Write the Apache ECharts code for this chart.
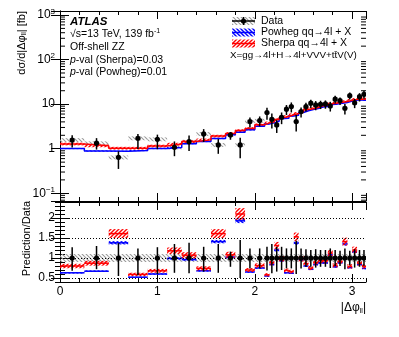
<!DOCTYPE html>
<html>
<head>
<meta charset="utf-8">
<script src="https://cdn.jsdelivr.net/npm/echarts@6/dist/echarts.min.js"></script>
<style>
  html, body { margin: 0; padding: 0; background: #fff; }
  #chart { width: 399px; height: 337px; }
</style>
</head>
<body>
<div id="chart"></div>
<script>
// bin edges in |dphi_ll|
var binEdges = [0, 0.25, 0.5, 0.7, 0.9, 1.1, 1.25, 1.4, 1.55, 1.7, 1.8, 1.9, 2.0, 2.1,
  2.15, 2.2, 2.25, 2.3, 2.35, 2.4, 2.45, 2.5, 2.55, 2.6, 2.65, 2.7, 2.75, 2.8, 2.85,
  2.9, 2.95, 3.0, 3.05, 3.1, 3.1416]

// measured cross-section [fb]
var dataVal = [1.57, 1.33, 0.64, 1.72, 1.63, 1.08, 1.44, 2.15, 1.22, 2.04, 1.22, 4.06, 4.27,
  6.5, 4.58, 3.42, 5.08, 7.7, 8.8, 4.06, 6.8, 8.8, 10.5,
  9.6, 9.95, 10.1, 9.1, 12.9, 12.0, 8.1, 15.5, 10.7, 14.7, 16.6]
// relative error bar ends (as read in ratio panel)
var dataErrUp = [1.27, 1.3, 1.37, 1.24, 1.27, 1.35, 1.38, 1.28, 1.35, 1.16, 1.45, 1.24, 1.24,
  1.28, 1.35, 1.28, 1.28, 1.24, 1.24, 1.43, 1.24, 1.22, 1.2,
  1.22, 1.2, 1.2, 1.24, 1.2, 1.18, 1.24, 1.18, 1.22, 1.2, 1.2]
var dataErrDn = [0.68, 0.72, 0.55, 0.57, 0.6, 0.63, 0.62, 0.66, 0.63, 0.78, 0.5, 0.74, 0.74,
  0.69, 0.62, 0.66, 0.7, 0.74, 0.74, 0.6, 0.74, 0.78, 0.78,
  0.76, 0.78, 0.78, 0.75, 0.8, 0.8, 0.72, 0.82, 0.76, 0.78, 0.8]

// predictions [fb]
var powhegVal = [1.01, 0.89, 0.88, 0.91, 1.01, 1.07, 1.3, 1.45, 1.69, 2.07, 2.35, 2.65, 3.2,
  3.6, 3.8, 4.15, 4.75, 4.85, 5.45, 5.6, 6.5, 7.1, 7.6,
  8.0, 8.6, 8.9, 9.8, 10.1, 10.5, 10.9, 11.7, 12.4, 12.4, 12.3]
var sherpaVal = [1.28, 1.16, 1.03, 1.03, 1.15, 1.27, 1.45, 1.58, 1.92, 2.2, 2.55, 2.85, 3.45,
  3.8, 4.0, 4.5, 5.0, 5.3, 5.8, 6.2, 6.7, 7.6, 7.9,
  8.4, 9.2, 9.4, 10.2, 10.6, 11.0, 11.4, 12.2, 12.8, 12.8, 13.1]

// prediction / data
var powhegRatio = [0.63, 0.67, 1.38, 0.52, 0.6, 0.99, 0.96, 0.68, 1.41, 1.02, 1.93, 0.65, 0.75,
  0.55, 0.84, 1.2, 0.93, 0.63, 0.62, 1.37, 0.95, 0.8, 0.72,
  0.84, 0.88, 0.88, 1.08, 0.78, 0.88, 1.35, 0.76, 1.16, 0.84, 0.74]
var sherpaRatio = [0.8, 0.87, 1.61, 0.59, 0.68, 1.18, 1.07, 0.74, 1.61, 1.08, 2.1, 0.7, 0.81,
  0.58, 0.88, 1.31, 0.98, 0.69, 0.66, 1.53, 0.98, 0.86, 0.75,
  0.88, 0.94, 0.93, 1.12, 0.82, 0.92, 1.41, 0.79, 1.2, 0.87, 0.79]

var dataSyst = 0.1
var powhegUnc = 0.03
var sherpaUnc = 0.07

var ratioTicks = [0.5, 1, 1.5, 2]
var ratioLines = [0.5, 1, 1.5, 2]
var logMinor = [0.07, 0.08, 0.09, 0.2, 0.3, 0.4, 0.5, 0.6, 0.7, 0.8, 0.9,
  2, 3, 4, 5, 6, 7, 8, 9, 20, 30, 40, 50, 60, 70, 80, 90,
  200, 300, 400, 500, 600, 700, 800, 900]

var FONT = '"Liberation Sans", Arial, sans-serif'
var PI = Math.PI

// small repeating canvas used as a hatch fill
function hatch(color, dir, lw) {
  var c = document.createElement('canvas')
  c.width = 4; c.height = 4
  var g = c.getContext('2d')
  g.strokeStyle = color
  g.lineWidth = lw
  g.beginPath()
  if (dir > 0) {
    g.moveTo(-1, 5); g.lineTo(5, -1)
    g.moveTo(-1, 1); g.lineTo(1, -1)
    g.moveTo(3, 5); g.lineTo(5, 3)
  } else {
    g.moveTo(-1, -1); g.lineTo(5, 5)
    g.moveTo(3, -1); g.lineTo(5, 1)
    g.moveTo(-1, 3); g.lineTo(1, 5)
  }
  g.stroke()
  return { image: c, repeat: 'repeat' }
}
var grayHatch = hatch('#9a9a9a', -1, 1.1)
var redHatch = hatch('#ff0000', 1, 1.4)
var blueHatch = hatch('#0000ff', -1, 1.4)

function lo(i) { return binEdges[i] }
function hi(i) { return binEdges[i + 1] }
function mid(i) { return (binEdges[i] + binEdges[i + 1]) / 2 }

function boxSeries(xi, yi, items, fill, stroke) {
  return {
    type: 'custom', xAxisIndex: xi, yAxisIndex: yi, clip: true, silent: true,
    encode: { x: [0, 1], y: [2, 3, 4] },
    renderItem: function (params, api) {
      var p1 = api.coord([api.value(0), api.value(3)])
      var p2 = api.coord([api.value(1), api.value(2)])
      var kids = [{
        type: 'rect',
        shape: { x: p1[0], y: p1[1], width: p2[0] - p1[0], height: p2[1] - p1[1] },
        style: { fill: fill }
      }]
      if (stroke) {
        var m = api.coord([api.value(0), api.value(4)])
        kids.push({
          type: 'line',
          shape: { x1: p1[0], y1: m[1], x2: p2[0], y2: m[1] },
          style: { stroke: stroke, lineWidth: 1.5 }
        })
      }
      return { type: 'group', children: kids }
    },
    data: items
  }
}

function pointSeries(xi, yi, items) {
  return {
    type: 'custom', xAxisIndex: xi, yAxisIndex: yi, clip: true, silent: true, z: 5,
    encode: { x: 0, y: [1, 2, 3] },
    renderItem: function (params, api) {
      var c = api.coord([api.value(0), api.value(1)])
      var a = api.coord([api.value(0), api.value(2)])
      var b = api.coord([api.value(0), api.value(3)])
      return {
        type: 'group', children: [
          { type: 'line', shape: { x1: a[0], y1: a[1], x2: b[0], y2: b[1] }, style: { stroke: '#000', lineWidth: 1.5 } },
          { type: 'circle', shape: { cx: c[0], cy: c[1], r: 2.6 }, style: { fill: '#000' } }
        ]
      }
    },
    data: items
  }
}

function stepData(vals) {
  var out = vals.map(function (v, i) { return [lo(i), v] })
  out.push([binEdges[binEdges.length - 1], vals[vals.length - 1]])
  return out
}

function xAxes(grid, labels) {
  var base = function (pos, interval, len, line, lab) {
    return {
      gridIndex: grid, type: 'value', position: pos, min: 0, max: PI, interval: interval,
      axisLine: { show: line, onZero: false, lineStyle: { color: '#000', width: 1 } },
      axisTick: { show: true, inside: true, length: len, lineStyle: { color: '#000', width: 1 } },
      axisLabel: {
        show: lab, showMaxLabel: false, margin: 4, color: '#000',
        fontFamily: FONT, fontSize: 12
      },
      splitLine: { show: false }
    }
  }
  return [
    base('bottom', 1, 8, true, labels),
    base('bottom', 0.2, 4, false, false),
    base('top', 1, 8, true, false),
    base('top', 0.2, 4, false, false)
  ]
}

function logLabel(v) {
  var e = Math.round(Math.log(v) / Math.LN10)
  if (e === 0) return '1'
  if (e === 1) return '10'
  return '{b|10}{p|' + (e < 0 ? '\u2212' + (-e) : e) + '}'
}

var logAxis = function (pos, lab) {
  return {
    gridIndex: 0, type: 'log', logBase: 10, position: pos, min: 0.0672, max: 1229,
    axisLine: { show: true, lineStyle: { color: '#000', width: 1 } },
    axisTick: { inside: true, length: 9, lineStyle: { color: '#000' } },
    axisLabel: {
      show: lab, showMinLabel: false, showMaxLabel: false, margin: 5, color: '#000',
      fontFamily: FONT, fontSize: 12, formatter: logLabel,
      rich: {
        b: { fontFamily: FONT, fontSize: 12, color: '#000' },
        p: { fontFamily: FONT, fontSize: 8, color: '#000', padding: [0, 0, 7, 0] }
      }
    },
    splitLine: { show: false }
  }
}

function ratioAxis(pos, major, lab) {
  var ax = {
    gridIndex: 1, type: 'value', position: pos, min: 0.4, max: 2.4,
    axisLine: { show: major, lineStyle: { color: '#000', width: 1 } },
    axisTick: { inside: true, length: major ? 9 : 5, lineStyle: { color: '#000' } },
    axisLabel: { show: lab, margin: 5, color: '#000', fontFamily: FONT, fontSize: 12 },
    splitLine: { show: false }
  }
  if (major) {
    ax.axisTick.customValues = ratioTicks
    ax.axisLabel.customValues = ratioTicks
  } else {
    ax.interval = 0.1
  }
  return ax
}

var upperGray = dataVal.map(function (v, i) { return [lo(i), hi(i), v * (1 - dataSyst), v * (1 + dataSyst), v] })
var upperPow = powhegVal.map(function (v, i) { return [lo(i), hi(i), v * (1 - powhegUnc), v * (1 + powhegUnc), v] })
var upperSh = sherpaVal.map(function (v, i) { return [lo(i), hi(i), v * (1 - sherpaUnc), v * (1 + sherpaUnc), v] })
var upperPts = dataVal.map(function (v, i) { return [mid(i), v, v * dataErrDn[i], v * dataErrUp[i]] })

var ratioGray = dataVal.map(function (v, i) { return [lo(i), hi(i), 1 - dataSyst, 1 + dataSyst, 1] })
var ratioPow = powhegRatio.map(function (v, i) { return [lo(i), hi(i), v * (1 - powhegUnc), v * (1 + powhegUnc), v] })
var ratioSh = sherpaRatio.map(function (v, i) { return [lo(i), hi(i), v * (1 - sherpaUnc), v * (1 + sherpaUnc), v] })
var ratioPts = dataVal.map(function (v, i) { return [mid(i), 1, dataErrDn[i], dataErrUp[i]] })

var chart = echarts.init(document.getElementById('chart'))

var option = {
  animation: false,
  backgroundColor: '#fff',
  grid: [
    { left: 60, top: 11, width: 306, height: 190 },
    { left: 60, top: 202, width: 306, height: 80 }
  ],
  xAxis: xAxes(0, false).concat(xAxes(1, true)),
  yAxis: [
    logAxis('left', true),
    logAxis('right', false),
    ratioAxis('left', true, true),
    ratioAxis('left', false, false),
    ratioAxis('right', true, false),
    ratioAxis('right', false, false)
  ],
  series: [
    boxSeries(0, 0, upperGray, grayHatch, null),
    boxSeries(0, 0, upperPow, blueHatch, null),
    boxSeries(0, 0, upperSh, redHatch, null),
    {
      type: 'line', xAxisIndex: 0, yAxisIndex: 0, step: 'end', showSymbol: false, silent: true,
      lineStyle: { color: '#0000ff', width: 1.5 }, data: stepData(powhegVal)
    },
    {
      type: 'line', xAxisIndex: 0, yAxisIndex: 0, step: 'end', showSymbol: false, silent: true,
      lineStyle: { color: '#ff0000', width: 1.5 }, data: stepData(sherpaVal)
    },
    pointSeries(0, 0, upperPts),
    {
      // minor log ticks on both sides
      type: 'custom', xAxisIndex: 0, yAxisIndex: 0, silent: true,
      encode: { x: 0, y: 1 },
      renderItem: function (params, api) {
        var l = api.coord([0, api.value(1)])
        var r = api.coord([PI, api.value(1)])
        return {
          type: 'group', children: [
            { type: 'line', shape: { x1: l[0], y1: l[1], x2: l[0] + 5, y2: l[1] }, style: { stroke: '#000', lineWidth: 1 } },
            { type: 'line', shape: { x1: r[0] - 5, y1: r[1], x2: r[0], y2: r[1] }, style: { stroke: '#000', lineWidth: 1 } }
          ]
        }
      },
      data: logMinor.map(function (v) { return [0, v] })
    },
    {
      type: 'scatter', xAxisIndex: 4, yAxisIndex: 2, data: [], silent: true,
      markLine: {
        silent: true, symbol: 'none', label: { show: false }, animation: false,
        lineStyle: { color: '#000', width: 1, type: [1, 2] },
        data: ratioLines.map(function (v) { return { yAxis: v } })
      }
    },
    boxSeries(4, 2, ratioGray, grayHatch, null),
    boxSeries(4, 2, ratioPow, blueHatch, '#0000ff'),
    boxSeries(4, 2, ratioSh, redHatch, '#ff0000'),
    pointSeries(4, 2, ratioPts)
  ],
  graphic: [
    // y-axis titles
    {
      type: 'text', x: 22, y: 11, rotation: PI / 2,
      style: {
        text: '{a|d\u03c3/d|\u0394\u03c6}{s|ll}{a|| [fb]}', align: 'right', verticalAlign: 'middle',
        rich: { a: { fontFamily: FONT, fontSize: 11, fill: '#000' }, s: { fontFamily: FONT, fontSize: 7, padding: [5, 0, 0, 0], fill: '#000' } }
      }
    },
    {
      type: 'text', x: 27, y: 201, rotation: PI / 2,
      style: { text: 'Prediction/Data', align: 'right', verticalAlign: 'middle', fontFamily: FONT, fontSize: 11, fill: '#000' }
    },
    // x-axis title
    {
      type: 'text', x: 366, y: 308,
      style: {
        text: '{a||\u0394\u03c6}{s|ll}{a||}', align: 'right', verticalAlign: 'middle',
        rich: { a: { fontFamily: FONT, fontSize: 12, fill: '#000' }, s: { fontFamily: FONT, fontSize: 7, padding: [6, 0, 0, 0], fill: '#000' } }
      }
    },
    // ATLAS labels
    { type: 'text', x: 70, y: 22, style: { text: 'ATLAS', font: 'italic bold 11.5px ' + FONT, fill: '#000', verticalAlign: 'middle' } },
    {
      type: 'text', x: 70, y: 34,
      style: {
        text: '{a|\u221as=13 TeV, 139 fb}{p|-1}', verticalAlign: 'middle',
        rich: { a: { fontFamily: FONT, fontSize: 10.5, fill: '#000' }, p: { fontFamily: FONT, fontSize: 7, padding: [0, 0, 6, 0], fill: '#000' } }
      }
    },
    { type: 'text', x: 70, y: 47, style: { text: 'Off-shell ZZ', fontFamily: FONT, fontSize: 10.5, fill: '#000', verticalAlign: 'middle' } },
    {
      type: 'text', x: 70, y: 60,
      style: {
        text: '{i|p}{a|-val (Sherpa)=0.03}', verticalAlign: 'middle',
        rich: { a: { fontFamily: FONT, fontSize: 10.5, fill: '#000' }, i: { fontFamily: FONT, fontStyle: 'italic', fontSize: 10.5, fill: '#000' } }
      }
    },
    {
      type: 'text', x: 70, y: 72,
      style: {
        text: '{i|p}{a|-val (Powheg)=0.01}', verticalAlign: 'middle',
        rich: { a: { fontFamily: FONT, fontSize: 10.5, fill: '#000' }, i: { fontFamily: FONT, fontStyle: 'italic', fontSize: 10.5, fill: '#000' } }
      }
    },
    // legend
    { type: 'rect', shape: { x: 232, y: 17, width: 23, height: 8 }, style: { fill: grayHatch } },
    { type: 'line', shape: { x1: 232, y1: 21, x2: 255, y2: 21 }, style: { stroke: '#000', lineWidth: 1.5 } },
    { type: 'line', shape: { x1: 243.5, y1: 17, x2: 243.5, y2: 25 }, style: { stroke: '#000', lineWidth: 1.5 } },
    { type: 'circle', shape: { cx: 243.5, cy: 21, r: 2.6 }, style: { fill: '#000' } },
    { type: 'text', x: 261, y: 21, style: { text: 'Data', fontFamily: FONT, fontSize: 10.5, fill: '#000', verticalAlign: 'middle' } },

    { type: 'rect', shape: { x: 232, y: 28.5, width: 23, height: 8 }, style: { fill: blueHatch } },
    { type: 'line', shape: { x1: 232, y1: 32.5, x2: 255, y2: 32.5 }, style: { stroke: '#0000ff', lineWidth: 1.5 } },
    { type: 'text', x: 261, y: 32.5, style: { text: 'Powheg qq\u21924l + X', fontFamily: FONT, fontSize: 10.5, fill: '#000', verticalAlign: 'middle' } },

    { type: 'rect', shape: { x: 232, y: 39.5, width: 23, height: 8 }, style: { fill: redHatch } },
    { type: 'line', shape: { x1: 232, y1: 43.5, x2: 255, y2: 43.5 }, style: { stroke: '#ff0000', lineWidth: 1.5 } },
    { type: 'text', x: 261, y: 43.5, style: { text: 'Sherpa qq\u21924l + X', fontFamily: FONT, fontSize: 10.5, fill: '#000', verticalAlign: 'middle' } },

    { type: 'text', x: 230, y: 55, style: { text: 'X=gg\u21924l+H\u21924l+VVV+tt\u0304V(V)', fontFamily: FONT, fontSize: 9.8, fill: '#000', verticalAlign: 'middle' } }
  ]
}

chart.setOption(option)
</script>
</body>
</html>
